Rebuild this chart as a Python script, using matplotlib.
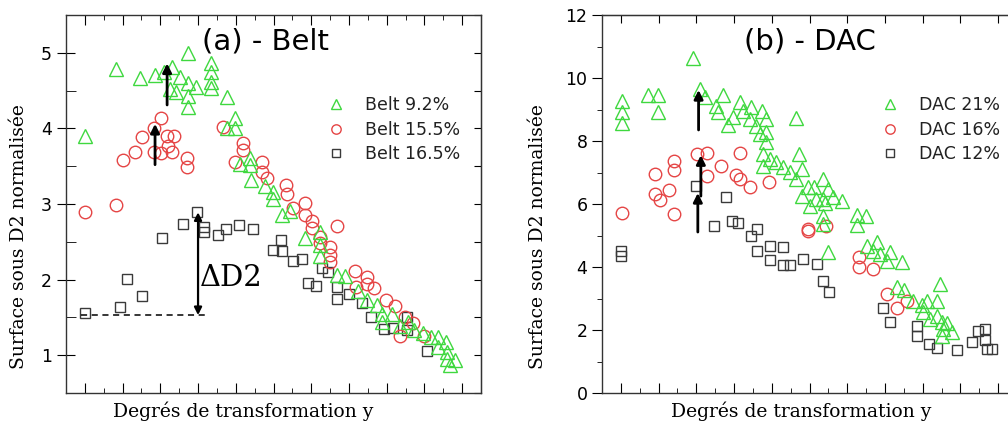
import matplotlib
matplotlib.use("Agg")
import matplotlib.pyplot as plt
from matplotlib.ticker import MultipleLocator, NullFormatter

# -----------------------------
# Data
# -----------------------------
# (a) Belt
belt92_x = [0.000, 0.082, 0.146, 0.186, 0.210, 0.231, 0.252, 0.225, 0.241, 0.273,
            0.273, 0.273, 0.273, 0.294, 0.334, 0.334, 0.334, 0.334, 0.377, 0.398,
            0.377, 0.398, 0.438, 0.438, 0.411, 0.440, 0.477, 0.499, 0.499, 0.523,
            0.544, 0.584, 0.623, 0.623, 0.623, 0.668, 0.690, 0.724, 0.748, 0.775,
            0.788, 0.788, 0.814, 0.836, 0.857, 0.873, 0.897, 0.918, 0.936, 0.936,
            0.958, 0.960, 0.960, 0.968, 0.981]
belt92_y = [3.90, 4.79, 4.67, 4.70, 4.75, 4.81, 4.68, 4.52, 4.48, 5.00,
            4.60, 4.43, 4.28, 4.55, 4.87, 4.74, 4.62, 4.54, 4.42, 4.14,
            4.01, 4.01, 3.61, 3.52, 3.53, 3.32, 3.24, 3.16, 3.07, 2.85,
            2.91, 2.55, 2.63, 2.46, 2.31, 2.06, 2.05, 1.85, 1.73, 1.66,
            1.54, 1.44, 1.54, 1.38, 1.44, 1.33, 1.30, 1.24, 1.24, 1.11,
            1.17, 1.04, 0.95, 0.87, 0.93]

belt155_x = [0.000, 0.082, 0.101, 0.133, 0.151, 0.183, 0.202, 0.183, 0.202, 0.218,
             0.236, 0.220, 0.231, 0.271, 0.271, 0.366, 0.398, 0.419, 0.419, 0.469,
             0.469, 0.483, 0.533, 0.536, 0.584, 0.552, 0.584, 0.602, 0.602, 0.623,
             0.623, 0.650, 0.650, 0.650, 0.668, 0.716, 0.748, 0.767, 0.719, 0.748,
             0.798, 0.822, 0.849, 0.870, 0.836, 0.899]
belt155_y = [2.89, 2.99, 3.58, 3.69, 3.89, 4.01, 4.14, 3.69, 3.68, 3.90,
             3.90, 3.77, 3.69, 3.61, 3.49, 4.02, 3.56, 3.81, 3.72, 3.56,
             3.42, 3.34, 3.25, 3.13, 3.01, 2.95, 2.85, 2.77, 2.68, 2.56,
             2.48, 2.43, 2.32, 2.23, 2.71, 2.11, 2.03, 1.89, 1.90, 1.94,
             1.73, 1.65, 1.50, 1.42, 1.25, 1.25]

belt165_x = [0.000, 0.093, 0.111, 0.151, 0.204, 0.260, 0.297, 0.316, 0.316, 0.353,
             0.374, 0.408, 0.446, 0.499, 0.520, 0.523, 0.552, 0.576, 0.592, 0.613,
             0.629, 0.645, 0.668, 0.668, 0.700, 0.735, 0.759, 0.793, 0.817, 0.854,
             0.854, 0.907]
belt165_y = [1.56, 1.64, 2.01, 1.78, 2.55, 2.74, 2.89, 2.70, 2.63, 2.59,
             2.67, 2.72, 2.67, 2.39, 2.52, 2.38, 2.25, 2.27, 1.95, 1.91,
             2.15, 2.10, 1.90, 1.74, 1.81, 1.69, 1.50, 1.34, 1.36, 1.50,
             1.33, 1.05]

# (b) DAC
dac21_x = [0.003, 0.003, 0.003, 0.071, 0.098, 0.098, 0.190, 0.209, 0.222, 0.272,
           0.251, 0.257, 0.283, 0.296, 0.315, 0.323, 0.344, 0.341, 0.357, 0.373,
           0.384, 0.368, 0.384, 0.384, 0.463, 0.376, 0.394, 0.410, 0.376, 0.429,
           0.471, 0.481, 0.447, 0.463, 0.495, 0.511, 0.537, 0.548, 0.481, 0.516,
           0.500, 0.537, 0.542, 0.563, 0.587, 0.537, 0.537, 0.627, 0.651, 0.627,
           0.548, 0.653, 0.680, 0.667, 0.688, 0.706, 0.714, 0.746, 0.733, 0.751,
           0.775, 0.799, 0.812, 0.802, 0.847, 0.839, 0.820, 0.839, 0.852, 0.854,
           0.865, 0.852, 0.878]
dac21_y = [9.27, 8.92, 8.57, 9.46, 9.46, 8.92, 10.63, 9.65, 9.40, 9.46,
           9.11, 8.92, 8.51, 8.76, 9.24, 8.95, 9.08, 8.70, 8.48, 8.95,
           8.70, 8.22, 8.29, 7.97, 8.73, 7.59, 7.43, 7.33, 7.21, 7.17,
           7.59, 7.11, 7.02, 6.79, 6.54, 6.54, 6.79, 6.48, 6.25, 6.16,
           5.94, 6.16, 6.03, 6.22, 6.10, 5.62, 5.37, 5.65, 5.62, 5.33,
           4.48, 4.67, 4.79, 4.51, 4.41, 4.19, 4.48, 4.16, 3.37, 3.27,
           2.92, 2.79, 2.92, 2.57, 3.46, 2.92, 2.35, 2.44, 2.25, 2.03,
           2.22, 1.81, 1.94]

dac16_x = [0.003, 0.090, 0.090, 0.103, 0.127, 0.140, 0.140, 0.140, 0.201, 0.228,
           0.228, 0.265, 0.315, 0.304, 0.317, 0.341, 0.392, 0.495, 0.495, 0.545,
           0.630, 0.630, 0.669, 0.706, 0.733, 0.759]
dac16_y = [5.71, 6.95, 6.32, 6.13, 6.44, 7.37, 7.08, 5.68, 7.59, 7.62,
           6.89, 7.21, 7.62, 6.92, 6.79, 6.54, 6.70, 5.21, 5.14, 5.30,
           4.32, 4.00, 3.94, 3.14, 2.70, 2.92]

dac12_x = [0.000, 0.000, 0.198, 0.278, 0.246, 0.294, 0.310, 0.344, 0.362, 0.362,
           0.394, 0.394, 0.429, 0.429, 0.447, 0.484, 0.519, 0.537, 0.553, 0.696,
           0.714, 0.786, 0.786, 0.817, 0.839, 0.892, 0.931, 0.947, 0.966, 0.966,
           0.971, 0.984]
dac12_y = [4.51, 4.35, 6.57, 6.22, 5.30, 5.46, 5.40, 4.98, 5.21, 4.51,
           4.67, 4.22, 4.63, 4.06, 4.06, 4.25, 4.10, 3.56, 3.21, 2.70,
           2.25, 2.13, 1.81, 1.56, 1.43, 1.37, 1.62, 1.97, 2.03, 1.68,
           1.40, 1.40]

belt_labels = ["Belt 9.2%", "Belt 15.5%", "Belt 16.5%"]
dac_labels = ["DAC 21%", "DAC 16%", "DAC 12%"]

GREEN = "#3fd83f"
RED = "#e54545"
GREY = "#3a3a3a"

plt.rcParams["font.family"] = "DejaVu Sans"

W, H = 1008, 425
fig = plt.figure(figsize=(W / 100, H / 100), dpi=100)


def px_rect(l, t, r, b):
    return [l / W, 1 - b / H, (r - l) / W, (b - t) / H]


ax1 = fig.add_axes(px_rect(66, 15, 481, 393))
ax2 = fig.add_axes(px_rect(602, 15, 1017, 393))


def scatter_sets(ax, sets):
    handles = []
    for (x, y, mk, col, ms) in sets:
        h, = ax.plot(x, y, ls="none", marker=mk, mfc="none", mec=col,
                     ms=ms, mew=1.0)
        handles.append(h)
    # greys first, greens on top
    for h, z in zip(handles, [4, 3, 2]):
        h.set_zorder(z)
    return handles


def add_legend(ax, handles, labels, anchor):
    leg = ax.legend(handles=handles, labels=labels, loc="upper left",
                    bbox_to_anchor=anchor, frameon=False, fontsize=12.5,
                    markerscale=0.75, handlelength=1.0, handletextpad=1.15,
                    labelspacing=0.38, borderaxespad=0, borderpad=0)
    for t in leg.get_texts():
        t.set_color("#222222")
    return leg


# -----------------------------
# (a) Belt
# -----------------------------
h1 = scatter_sets(ax1, [
    (belt92_x, belt92_y, "^", GREEN, 10),
    (belt155_x, belt155_y, "o", RED, 9),
    (belt165_x, belt165_y, "s", GREY, 7.5),
])

ax1.set_xlim(-0.05, 1.05)
ax1.set_ylim(0.5, 5.5)
ax1.xaxis.set_major_locator(MultipleLocator(0.1))
ax1.xaxis.set_minor_locator(MultipleLocator(0.05))
ax1.xaxis.set_major_formatter(NullFormatter())
ax1.yaxis.set_major_locator(MultipleLocator(1))
ax1.yaxis.set_minor_locator(MultipleLocator(0.5))
ax1.tick_params(axis="x", which="major", direction="in", length=7, top=True)
ax1.tick_params(axis="x", which="minor", direction="in", length=3.5, top=True)
ax1.tick_params(axis="y", which="major", direction="inout", length=13,
                labelsize=12.5, right=False)
ax1.tick_params(axis="y", which="minor", direction="in", length=7, right=False)
sec1 = ax1.secondary_yaxis("right")
sec1.yaxis.set_major_locator(MultipleLocator(0.5))
sec1.tick_params(direction="in", length=5, labelright=False)

ax1.text(0.48, 0.929, "(a) - Belt", transform=ax1.transAxes, ha="center",
         va="center", fontsize=21)

# arrows showing the rise
ax1.annotate("", xy=(0.218, 4.86), xytext=(0.218, 4.31),
             arrowprops=dict(arrowstyle="-|>", color="black", lw=2,
                             mutation_scale=13, shrinkA=0, shrinkB=0), zorder=6)
ax1.annotate("", xy=(0.186, 4.06), xytext=(0.186, 3.52),
             arrowprops=dict(arrowstyle="-|>", color="black", lw=2,
                             mutation_scale=13, shrinkA=0, shrinkB=0), zorder=6)
ax1.annotate("", xy=(0.30, 2.89), xytext=(0.30, 1.53),
             arrowprops=dict(arrowstyle="<|-|>", color="black", lw=1.6,
                             mutation_scale=11, shrinkA=0, shrinkB=0), zorder=6)
ax1.plot([-0.01, 0.32], [1.53, 1.53], ls="--", color="black", lw=1.1,
         dashes=(4, 3))
ax1.text(0.387, 2.02, "\u0394D2", ha="center", va="center",
         family="DejaVu Serif", fontsize=21)

add_legend(ax1, h1, belt_labels, (0.63, 0.785))

# -----------------------------
# (b) DAC
# -----------------------------
h2 = scatter_sets(ax2, [
    (dac21_x, dac21_y, "^", GREEN, 10),
    (dac16_x, dac16_y, "o", RED, 9),
    (dac12_x, dac12_y, "s", GREY, 7.5),
])

ax2.set_xlim(-0.05, 1.05)
ax2.set_ylim(0, 12)
ax2.xaxis.set_major_locator(MultipleLocator(0.1))
ax2.xaxis.set_minor_locator(MultipleLocator(0.05))
ax2.xaxis.set_major_formatter(NullFormatter())
ax2.yaxis.set_major_locator(MultipleLocator(2))
ax2.yaxis.set_minor_locator(MultipleLocator(1))
ax2.tick_params(axis="x", which="major", direction="in", length=7)
ax2.tick_params(axis="x", which="minor", direction="in", length=3.5)
ax2.tick_params(axis="y", which="major", direction="out", length=7,
                labelsize=12.5)
ax2.tick_params(axis="y", which="minor", direction="out", length=3.5)
sec2x = ax2.secondary_xaxis("top")
sec2x.xaxis.set_major_locator(MultipleLocator(0.1))
sec2x.tick_params(direction="in", length=6, labeltop=False)
sec2 = ax2.secondary_yaxis("right")
sec2.yaxis.set_major_locator(MultipleLocator(2))
sec2.tick_params(direction="in", length=5, labelright=False)

ax2.text(0.50, 0.929, "(b) - DAC", transform=ax2.transAxes, ha="center",
         va="center", fontsize=21)

for xa, y0, y1 in [(0.206, 8.35, 9.62), (0.212, 6.25, 7.55), (0.204, 5.11, 6.35)]:
    ax2.annotate("", xy=(xa, y1), xytext=(xa, y0),
                 arrowprops=dict(arrowstyle="-|>", color="black", lw=2,
                                 mutation_scale=13, shrinkA=0, shrinkB=0),
                 zorder=6)

add_legend(ax2, h2, dac_labels, (0.673, 0.785))

for ax in (ax1, ax2):
    for sp in ax.spines.values():
        sp.set_linewidth(1.0)
        sp.set_color("#333333")

# axis titles
for cx in (19, 538):
    fig.text(cx / W, 1 - 237 / H, "Surface sous D2 normalisée", rotation=90,
             ha="center", va="center", family="DejaVu Serif", fontsize=13.5)
for cx in (243, 801):
    fig.text(cx / W, 1 - 411 / H, "Degrés de transformation y", ha="center",
             va="center", family="DejaVu Serif", fontsize=13.5)

fig.savefig("out.png", dpi=100)
